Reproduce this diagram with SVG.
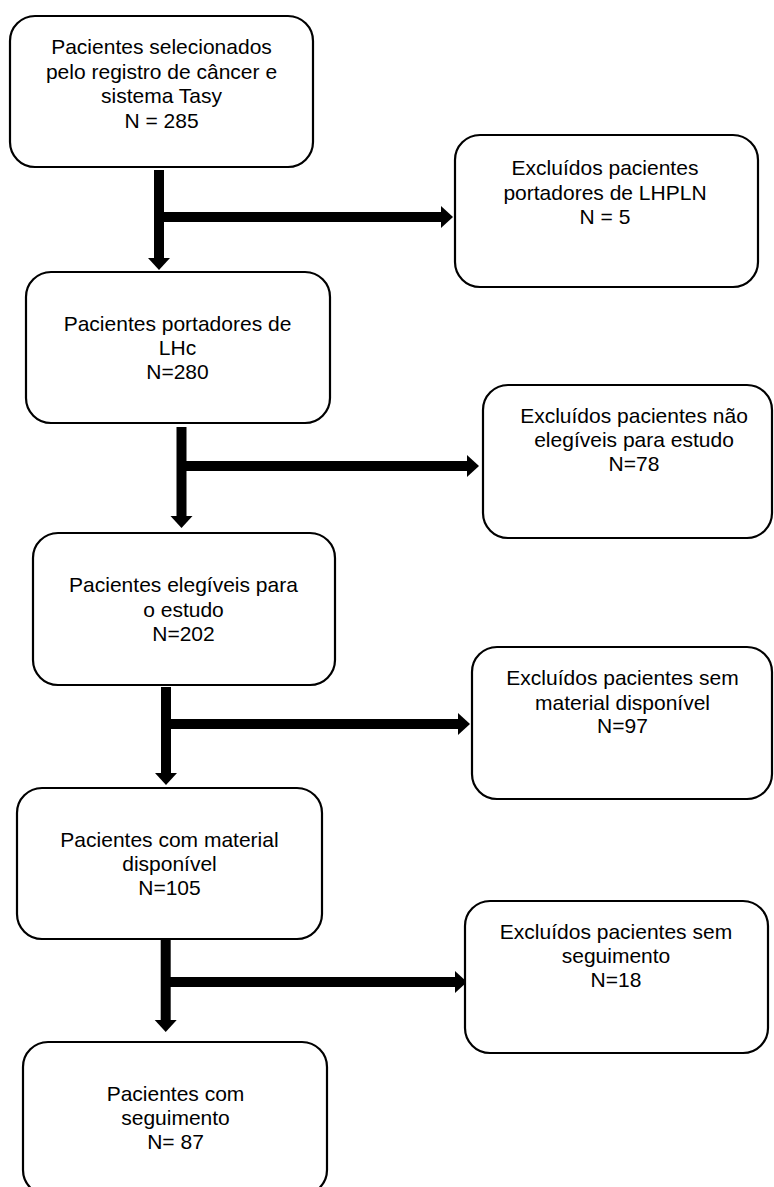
<svg xmlns="http://www.w3.org/2000/svg" width="774" height="1187" viewBox="0 0 774 1187">
<style>
.box{fill:#fff;stroke:#000;stroke-width:2.2}
.t{font-family:"Liberation Sans",Arial,sans-serif;font-size:21px;fill:#000;text-anchor:middle}
.c{stroke:#000;stroke-width:10;fill:none;marker-end:url(#ah)}
</style>
<defs>
<marker id="ah" markerUnits="userSpaceOnUse" markerWidth="12" markerHeight="22" refX="0" refY="11" orient="auto" overflow="visible">
<path d="M0,0 L12,11 L0,22 z" fill="#000"/>
</marker>
</defs>
<rect width="774" height="1187" fill="#fff"/>
<g id="connectors">
<line class="c" x1="159" y1="170" x2="159" y2="258"/>
<line class="c" x1="159" y1="217" x2="441" y2="217"/>
<line class="c" x1="181.5" y1="427" x2="181.5" y2="516"/>
<line class="c" x1="181" y1="466" x2="467" y2="466"/>
<line class="c" x1="166" y1="687" x2="166" y2="773"/>
<line class="c" x1="166" y1="724" x2="458" y2="724"/>
<line class="c" x1="165.7" y1="932" x2="165.7" y2="1020"/>
<line class="c" x1="166" y1="982" x2="455" y2="982"/>
</g>
<g id="n1"><rect class="box" x="10" y="16" width="303" height="151" rx="25"/>
<text class="t" x="161.5" y="54">Pacientes selecionados</text>
<text class="t" x="161.5" y="78.5">pelo registro de câncer e</text>
<text class="t" x="161.5" y="103">sistema Tasy</text>
<text class="t" x="161.5" y="127.5">N = 285</text></g>
<g id="n2"><rect class="box" x="455" y="135" width="303" height="152" rx="25"/>
<text class="t" x="605" y="175">Excluídos pacientes</text>
<text class="t" x="605" y="199.5">portadores de LHPLN</text>
<text class="t" x="605" y="223.5">N = 5</text></g>
<g id="n3"><rect class="box" x="26" y="272" width="304" height="151" rx="25"/>
<text class="t" x="177.5" y="331">Pacientes portadores de</text>
<text class="t" x="177.5" y="355">LHc</text>
<text class="t" x="177.5" y="379">N=280</text></g>
<g id="n4"><rect class="box" x="483" y="385" width="289" height="153" rx="25"/>
<text class="t" x="634" y="423">Excluídos pacientes não</text>
<text class="t" x="634" y="447">elegíveis para estudo</text>
<text class="t" x="634" y="471">N=78</text></g>
<g id="n5"><rect class="box" x="33" y="533" width="302" height="152" rx="25"/>
<text class="t" x="183.5" y="592">Pacientes elegíveis para</text>
<text class="t" x="183.5" y="617">o estudo</text>
<text class="t" x="183.5" y="641">N=202</text></g>
<g id="n6"><rect class="box" x="472" y="647" width="300" height="152" rx="25"/>
<text class="t" x="622.5" y="685">Excluídos pacientes sem</text>
<text class="t" x="622.5" y="710">material disponível</text>
<text class="t" x="622.5" y="733">N=97</text></g>
<g id="n7"><rect class="box" x="17" y="788" width="305" height="151" rx="25"/>
<text class="t" x="169.5" y="847">Pacientes com material</text>
<text class="t" x="169.5" y="871">disponível</text>
<text class="t" x="169.5" y="895">N=105</text></g>
<g id="n8"><rect class="box" x="465" y="901" width="303" height="152" rx="25"/>
<text class="t" x="616" y="939">Excluídos pacientes sem</text>
<text class="t" x="616" y="963">seguimento</text>
<text class="t" x="616" y="987">N=18</text></g>
<g id="n9"><rect class="box" x="23" y="1042" width="304" height="153" rx="25"/>
<text class="t" x="175.5" y="1101">Pacientes com</text>
<text class="t" x="175.5" y="1125">seguimento</text>
<text class="t" x="175.5" y="1149">N= 87</text></g>
</svg>
